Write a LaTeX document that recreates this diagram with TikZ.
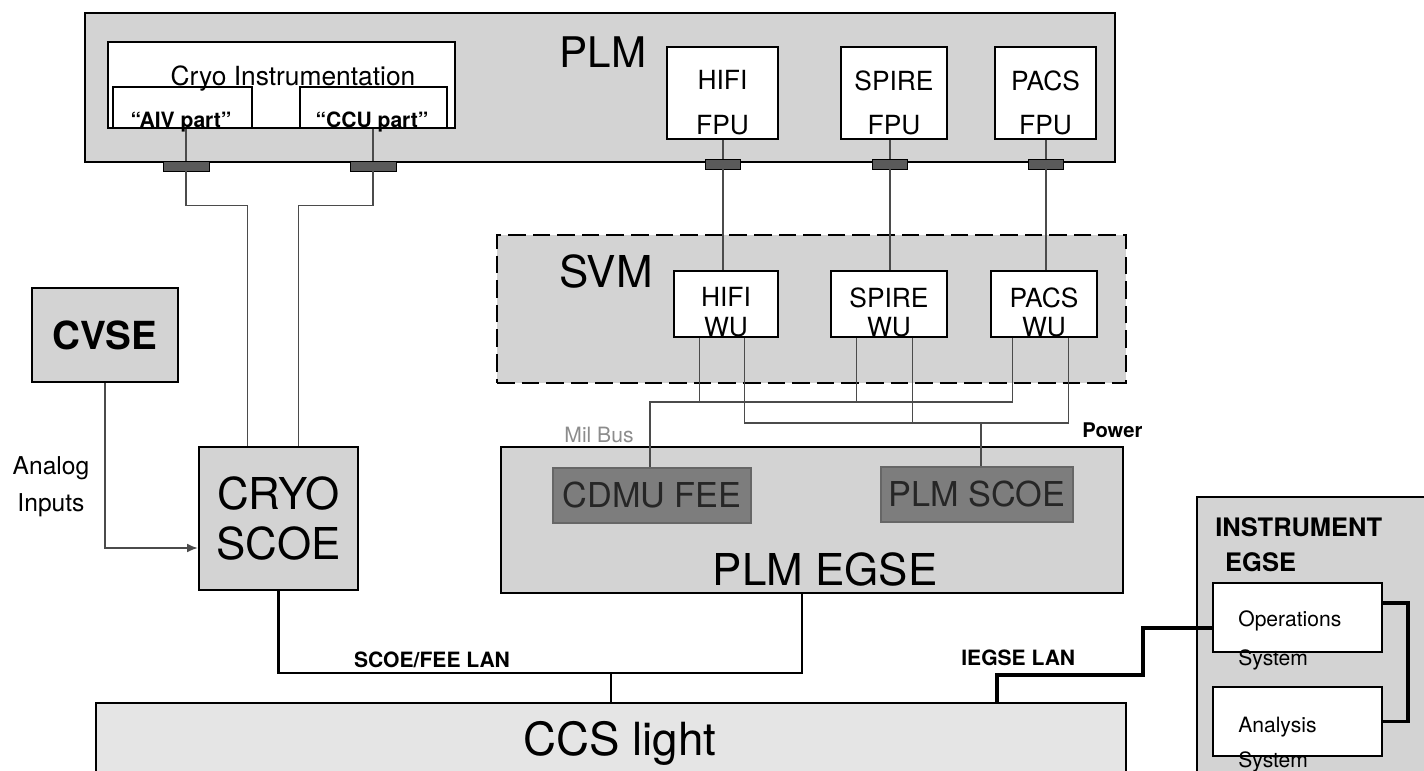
\documentclass[tikz,border=0pt]{standalone}
\usepackage{fontspec}
\setmainfont{TeX Gyre Heros}
\usetikzlibrary{arrows.meta,positioning,calc}
\definecolor{hsGrey}{RGB}{211,211,211}
\definecolor{ccsGrey}{RGB}{229,229,229}
\definecolor{feeGrey}{RGB}{125,125,125}
\definecolor{plugGrey}{RGB}{90,90,90}
\definecolor{wireGrey}{RGB}{75,75,75}
\tikzset{sz/.style 2 args={minimum width=#1*0.02cm, minimum height=#2*0.02cm}}

\begin{document}
\begin{tikzpicture}[x=0.02cm, y=-0.02cm,
    module/.style={rectangle, draw, line width=1.5pt, fill=hsGrey, inner sep=0pt},
    winbox/.style={rectangle, draw, line width=0.9pt, fill=white, inner sep=0pt},
    plug/.style={rectangle, draw, line width=0.5pt, fill=plugGrey, inner sep=0pt},
    feebox/.style={rectangle, draw=black!60, line width=0.8pt, fill=feeGrey, text=black!85,
                   inner sep=0pt, font=\fontsize{19.5}{22}\selectfont},
    lbl/.style={inner sep=0pt, anchor=base},
    mlbl/.style={inner sep=0pt, anchor=north, align=center},
    wire/.style={draw=wireGrey, line width=0.8pt},
    lan/.style={draw, line width=1.3pt},
    ilan/.style={draw, line width=2.2pt}
  ]
  \useasboundingbox (0,0) rectangle (1424,771);
  \clip (0,0) rectangle (1424,771);

  % payload module
  \node[module, sz={1030}{149}] (plm) at (600,87.5) {};
  \node[lbl, font=\fontsize{24}{28}\selectfont] (plmlbl) at (603,67) {PLM};
  \node[winbox, sz={347}{86}] (cryoinst) at (281.5,85) {};
  \node[winbox, sz={139}{41}] (aiv) at (182.5,107.5) {};
  \node[winbox, sz={147}{41}] (ccu) at (373.5,107.5) {};
  \node[lbl, font=\fontsize{15}{18}\selectfont] (cryoinstlbl) at (293,85) {Cryo Instrumentation};
  \node[lbl, font=\bfseries\fontsize{12}{14}\selectfont] (aivlbl) at (181,127) {``AIV part''};
  \node[lbl, font=\bfseries\fontsize{12}{14}\selectfont] (ccului) at (372,127) {``CCU part''};

  \node[winbox, sz={111}{92}] (hififpu)  at (722.5,93) {};
  \node[winbox, sz={106}{92}] (spirefpu) at (894,93) {};
  \node[winbox, sz={101}{92}] (pacsfpu)  at (1045.5,93) {};
  \node[mlbl, font=\fontsize{15}{25.5}\selectfont] (hififpulbl)  at (722.5,70) {HIFI\\FPU};
  \node[mlbl, font=\fontsize{15}{25.5}\selectfont] (spirefpulbl) at (894,70) {SPIRE\\FPU};
  \node[mlbl, font=\fontsize{15}{25.5}\selectfont] (pacsfpulbl)  at (1045.5,70) {PACS\\FPU};

  \node[plug, sz={46}{10}] (aivplug)   at (186,166) {};
  \node[plug, sz={46}{10}] (ccuplug)   at (373,166) {};
  \node[plug, sz={35}{10}] (hifiplug)  at (723,164) {};
  \node[plug, sz={35}{10}] (spireplug) at (890,164) {};
  \node[plug, sz={35}{10}] (pacsplug)  at (1046,164) {};

  % service module
  \node[module, sz={629}{148}, dash pattern=on 10pt off 4pt, line width=1.6pt] (svm) at (811.5,309) {};
  \node[lbl, font=\fontsize{25}{30}\selectfont] (svmlbl) at (606,287) {SVM};
  \node[winbox, sz={104}{66}] (hifiwu)  at (726,304) {};
  \node[winbox, sz={116}{66}] (spirewu) at (889,304) {};
  \node[winbox, sz={106}{66}] (pacswu)  at (1044,304) {};
  \node[mlbl, font=\fontsize{15}{17}\selectfont] (hifiwulbl)  at (726,287) {HIFI\\WU};
  \node[mlbl, font=\fontsize{15}{17}\selectfont] (spirewulbl) at (889,287) {SPIRE\\WU};
  \node[mlbl, font=\fontsize{15}{17}\selectfont] (pacswulbl)  at (1044,287) {PACS\\WU};

  % ground equipment
  \node[module, sz={146}{94}, font=\bfseries\fontsize{22}{26}\selectfont] (cvse) at (105,335) {CVSE};
  \node[mlbl, font=\fontsize{14}{21}\selectfont] (analog) at (51,456) {Analog\\Inputs};
  \node[module, sz={159}{143}, align=center, font=\fontsize{25}{29}\selectfont] (cryoscoe) at (278.5,518.5) {CRYO\\SCOE};

  \node[module, sz={622}{146}] (plmegse) at (812,520) {};
  \node[feebox, sz={198}{55}] (cdmu) at (652,495.5) {CDMU FEE};
  \node[feebox, sz={192}{55}] (plmscoe) at (977,494.5) {PLM SCOE};
  \node[lbl, font=\fontsize{25}{30}\selectfont] (plmegselbl) at (825,585) {PLM EGSE};

  \node[module, fill=ccsGrey, sz={1030}{87}] (ccs) at (611,746.5) {};
  \node[lbl, font=\fontsize{26}{30}\selectfont] (ccslbl) at (620,755) {CCS light};

  \node[module, sz={243}{293}] (iegse) at (1318.5,643.5) {};
  \node[inner sep=0pt, anchor=north west, align=left, font=\bfseries\fontsize{14.5}{19.8}\selectfont]
    (iegselbl) at (1215,517) {INSTRUMENT\\\hspace{5.6pt}EGSE};
  \node[winbox, sz={169}{69}] (ops) at (1297.5,617.5) {};
  \node[winbox, sz={169}{69}] (ana) at (1297.5,721.5) {};
  \node[inner sep=0pt, anchor=north west, align=left, font=\fontsize{12}{22.7}\selectfont]
    (opslbl) at (1238,610) {Operations\\System};
  \node[inner sep=0pt, anchor=north west, align=left, font=\fontsize{12}{20}\selectfont]
    (analbl) at (1238,717) {Analysis\\System};

  % harness
  \draw[wire] (aivplug.north |- aiv.south) -- (aivplug.north);
  \draw[wire] (ccuplug.north |- ccu.south) -- (ccuplug.north);
  \draw[wire] (aivplug.south) -- ++(0,34) -| ($(cryoscoe.north west)+(50,0)$);
  \draw[wire] (ccuplug.south) -- ++(0,34) -| ($(cryoscoe.north west)+(101,0)$);

  \draw[wire] (hifiplug.north |- hififpu.south) -- (hifiplug.north);
  \draw[wire] (spireplug.north |- spirefpu.south) -- (spireplug.north);
  \draw[wire] (pacsplug.north |- pacsfpu.south) -- (pacsplug.north);
  \draw[wire] (hifiplug.south) -- (hifiplug.south |- hifiwu.north);
  \draw[wire] (spireplug.south) -- (spireplug.south |- spirewu.north);
  \draw[wire] (pacsplug.south) -- (pacsplug.south |- pacswu.north);

  \coordinate (hifimil)  at ($(hifiwu.south west)+(26,0)$);
  \coordinate (hifipwr)  at ($(hifiwu.south west)+(71,0)$);
  \coordinate (spiremil) at ($(spirewu.south west)+(26,0)$);
  \coordinate (spirepwr) at ($(spirewu.south west)+(82,0)$);
  \coordinate (pacsmil)  at ($(pacswu.south west)+(22,0)$);
  \coordinate (pacspwr)  at ($(pacswu.south west)+(78,0)$);
  \coordinate (milbus) at (650,402);
  \coordinate (pwrbus) at (981,423);

  \draw[wire] (hifimil) |- (milbus) -- (milbus |- cdmu.north);
  \draw[wire] (milbus) -| (pacsmil);
  \draw[wire] (spiremil) -- (spiremil |- milbus);
  \draw[wire] (hifipwr) |- (pacspwr |- pwrbus) -- (pacspwr);
  \draw[wire] (spirepwr) -- (spirepwr |- pwrbus);
  \draw[wire] (pwrbus) -- (pwrbus |- plmscoe.north);
  \node[lbl, text=black!45, font=\fontsize{12}{14}\selectfont] (milbuslbl) at (599,442) {Mil Bus};
  \node[lbl, anchor=base west, font=\bfseries\fontsize{11.5}{14}\selectfont] (powerlbl) at (1082,437) {Power};

  \coordinate (anain) at ($(cryoscoe.west)+(0,29.5)$);
  \draw[wire, -{Latex[length=6pt,width=5pt]}] (cvse.south) |- (anain);

  % LANs
  \coordinate (lanbar) at (611,673);
  \coordinate (egseout) at ($(plmegse.south)+(-10,0)$);
  \draw[lan] (cryoscoe.south) |- (lanbar) -| (egseout);
  \draw[lan] (lanbar) -- (lanbar |- ccs.north);
  \node[lbl, font=\bfseries\fontsize{12}{14}\selectfont] (scoelanlbl) at (432,667) {SCOE/FEE LAN};

  \coordinate (ilanx) at (997,675);
  \coordinate (ilanturn) at (1143,675);
  \coordinate (opsin) at ($(ops.west)+(0,10.5)$);
  \draw[ilan] (ilanx |- ccs.north) -- (ilanx) -- (ilanturn) |- (opsin);
  \draw[ilan] ($(ops.east)+(0,-14.5)$) -- ++(25,0) |- (ana.east);
  \node[lbl, anchor=base west, font=\bfseries\fontsize{12}{14}\selectfont] (ilanlbl) at (961,665) {IEGSE LAN};
\end{tikzpicture}
\end{document}
